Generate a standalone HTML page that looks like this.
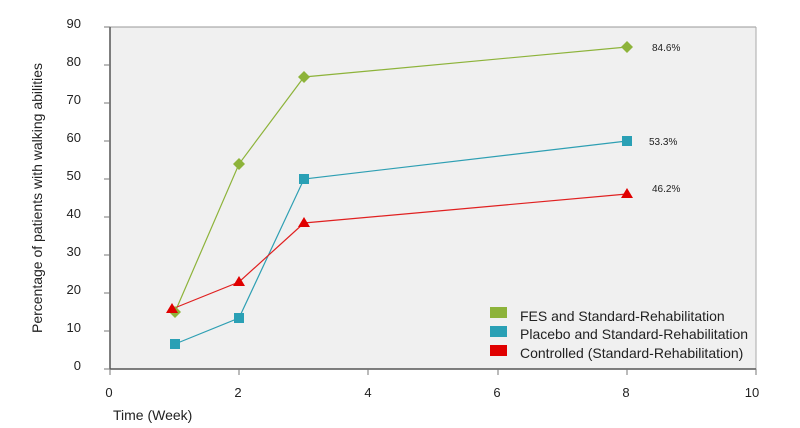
<!DOCTYPE html>
<html><head><meta charset="utf-8"><style>body{margin:0;background:#fff}svg{display:block}text{font-family:"Liberation Sans",Arial,sans-serif;fill:#222}</style></head>
<body>
<svg width="800" height="428" viewBox="0 0 800 428">
<rect x="110" y="27" width="646" height="342" fill="#f0f0f0"/>
<line x1="110" y1="27" x2="756" y2="27" stroke="#999" stroke-width="1"/>
<line x1="756" y1="27" x2="756" y2="369" stroke="#aaa" stroke-width="1"/>
<line x1="110" y1="27" x2="110" y2="369" stroke="#555" stroke-width="1.5"/>
<line x1="110" y1="369" x2="756" y2="369" stroke="#555" stroke-width="1.5"/>
<g stroke="#777" stroke-width="1">
<line x1="104" y1="27" x2="110" y2="27"/><line x1="104" y1="65" x2="110" y2="65"/><line x1="104" y1="103" x2="110" y2="103"/><line x1="104" y1="141" x2="110" y2="141"/><line x1="104" y1="179" x2="110" y2="179"/><line x1="104" y1="217" x2="110" y2="217"/><line x1="104" y1="255" x2="110" y2="255"/><line x1="104" y1="293" x2="110" y2="293"/><line x1="104" y1="331" x2="110" y2="331"/><line x1="104" y1="369" x2="110" y2="369"/>
<line x1="110" y1="369" x2="110" y2="375"/><line x1="239" y1="369" x2="239" y2="375"/><line x1="368" y1="369" x2="368" y2="375"/><line x1="498" y1="369" x2="498" y2="375"/><line x1="627" y1="369" x2="627" y2="375"/><line x1="756" y1="369" x2="756" y2="375"/>
</g>
<g font-size="13" text-anchor="end">
<text x="81" y="28">90</text><text x="81" y="66">80</text><text x="81" y="104">70</text><text x="81" y="142">60</text><text x="81" y="180">50</text><text x="81" y="218">40</text><text x="81" y="256">30</text><text x="81" y="294">20</text><text x="81" y="332">10</text><text x="81" y="370">0</text>
</g>
<g font-size="13" text-anchor="middle">
<text x="109" y="397">0</text><text x="238" y="397">2</text><text x="368" y="397">4</text><text x="497" y="397">6</text><text x="626" y="397">8</text><text x="752" y="397">10</text>
</g>
<text x="113" y="420" font-size="14">Time (Week)</text>
<text transform="translate(42,198) rotate(-90)" font-size="14" text-anchor="middle">Percentage of patients with walking abilities</text>
<polyline points="175,312 239,164 304,77 627,47" fill="none" stroke="#8db33a" stroke-width="1.2"/>
<polyline points="175,344 239,318 304,179 627,141" fill="none" stroke="#2e9fb3" stroke-width="1.2"/>
<polyline points="172,309 239,282 304,223 627,194" fill="none" stroke="#e02020" stroke-width="1.2"/>
<g fill="#8db33a">
<polygon points="175,306 181,312 175,318 169,312"/><polygon points="239,158 245,164 239,170 233,164"/><polygon points="304,71 310,77 304,83 298,77"/><polygon points="627,41 633,47 627,53 621,47"/>
</g>
<g fill="#2aa0b5">
<rect x="170" y="339" width="10" height="10"/><rect x="234" y="313" width="10" height="10"/><rect x="299" y="174" width="10" height="10"/><rect x="622" y="136" width="10" height="10"/>
</g>
<g fill="#e00000">
<polygon points="172,303 178,313 166,313"/><polygon points="239,276 245,286 233,286"/><polygon points="304,217 310,227 298,227"/><polygon points="627,188 633,198 621,198"/>
</g>
<g font-size="10"><text x="652" y="51">84.6%</text><text x="649" y="145">53.3%</text><text x="652" y="192">46.2%</text></g>
<rect x="490" y="307" width="17" height="11" fill="#8db33a"/>
<rect x="490" y="326" width="17" height="11" fill="#2aa0b5"/>
<rect x="490" y="345" width="17" height="11" fill="#e00000"/>
<g font-size="14"><text x="520" y="321">FES and Standard-Rehabilitation</text><text x="520" y="339">Placebo and Standard-Rehabilitation</text><text x="520" y="358">Controlled (Standard-Rehabilitation)</text></g>
</svg>
</body></html>
